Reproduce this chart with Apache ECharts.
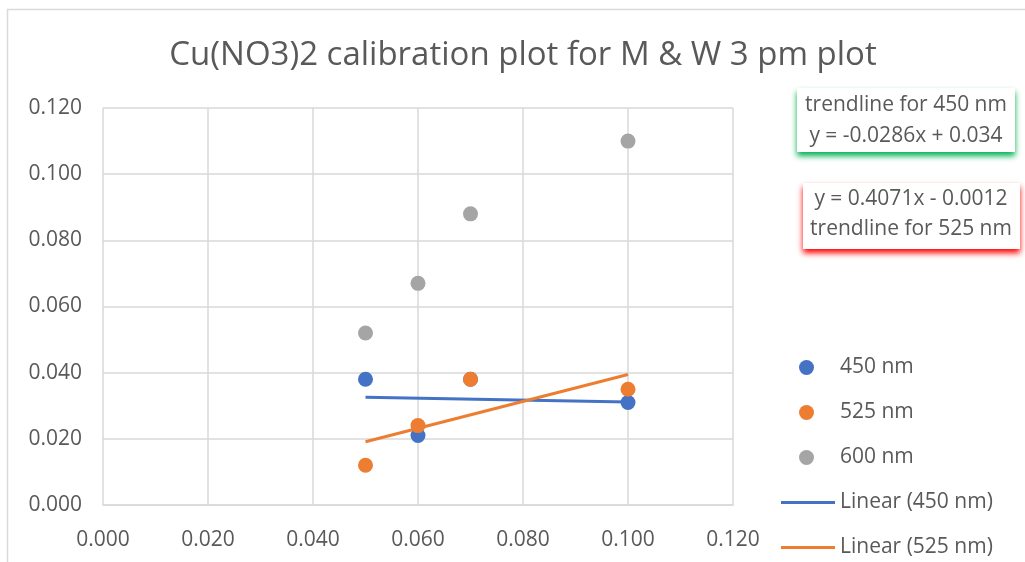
<!DOCTYPE html>
<html>
<head>
<meta charset="utf-8">
<script src="https://cdn.jsdelivr.net/npm/echarts@6/dist/echarts.min.js"></script>
<style>
  html, body { margin: 0; padding: 0; background: #fff; }
  #chart { width: 1025px; height: 562px; }
</style>
</head>
<body>
<div id="chart"></div>
<script>
var conc = [0.05, 0.06, 0.07, 0.1];
var abs450 = [0.038, 0.021, 0.038, 0.031];
var abs525 = [0.012, 0.024, 0.038, 0.035];
var abs600 = [0.052, 0.067, 0.088, 0.110];
var seriesNames = ['450 nm', '525 nm', '600 nm'];
var trendNames = ['Linear (450 nm)', 'Linear (525 nm)'];
var colors = ['#4472C4', '#ED7D31', '#A5A5A5'];

function pairs(xs, ys) {
    return xs.map(function (x, i) { return [x, ys[i]]; });
}

// least squares fit, drawn over the range of x like excel does
function trend(xs, ys) {
    var n = xs.length, mx = 0, my = 0, sxy = 0, sxx = 0;
    for (var i = 0; i < n; i++) { mx += xs[i] / n; my += ys[i] / n; }
    for (var j = 0; j < n; j++) {
        sxy += (xs[j] - mx) * (ys[j] - my);
        sxx += (xs[j] - mx) * (xs[j] - mx);
    }
    var b = sxy / sxx, a = my - b * mx;
    var x0 = Math.min.apply(null, xs), x1 = Math.max.apply(null, xs);
    return [[x0, a + b * x0], [x1, a + b * x1]];
}

var font = 'Open Sans';
var fs = 21;
var chart = echarts.init(document.getElementById('chart'));

var option = {
    backgroundColor: '#fff',
    animation: false,
    title: {
        text: 'Cu(NO3)2 calibration plot for M & W 3 pm plot',
        left: 518,
        textAlign: 'center',
        top: 34,
        textStyle: { fontFamily: font, fontSize: 33, fontWeight: 'normal', color: '#595959' }
    },
    grid: { left: 103, right: 292, top: 108, bottom: 57 },
    xAxis: {
        type: 'value', min: 0, max: 0.12, interval: 0.02,
        axisLine: { lineStyle: { color: '#d9d9d9', width: 1.5 } },
        axisTick: { show: false },
        splitLine: { lineStyle: { color: '#d9d9d9', width: 1.5 } },
        axisLabel: {
            formatter: function (v) { return v.toFixed(3); },
            fontFamily: font, fontSize: fs, color: '#595959', margin: 25
        }
    },
    yAxis: {
        type: 'value', min: 0, max: 0.12, interval: 0.02,
        axisLine: { show: false },
        axisTick: { show: false },
        splitLine: { lineStyle: { color: '#d9d9d9', width: 1.5 } },
        axisLabel: {
            formatter: function (v) { return v.toFixed(3); },
            fontFamily: font, fontSize: fs, color: '#595959', margin: 21
        }
    },
    legend: [
        {
            data: seriesNames,
            orient: 'vertical',
            left: 799, top: 357, padding: 0,
            itemWidth: 15, itemHeight: 15, itemGap: 24,
            icon: 'circle',
            textStyle: { fontFamily: font, fontSize: fs, color: '#595959', padding: [0, 0, 0, 21] }
        },
        {
            data: trendNames,
            orient: 'vertical',
            left: 781, top: 492, padding: 0,
            itemWidth: 54, itemHeight: 3, itemGap: 24,
            icon: 'rect',
            textStyle: { fontFamily: font, fontSize: fs, color: '#595959' }
        }
    ],
    graphic: [
        {
            type: 'rect', silent: true, z: -1,
            shape: { x: 7.5, y: 9.5, width: 1030, height: 570 },
            style: { fill: 'none', stroke: '#d9d9d9', lineWidth: 1.5 }
        },
        {
            type: 'group', left: 797, top: 88,
            children: [
                { type: 'rect', shape: { x: 0, y: 0, width: 218, height: 64 },
                  style: { fill: '#fff', shadowBlur: 6, shadowOffsetY: 4, shadowColor: '#00B050' } },
                { type: 'text', style: { x: 109, y: 2, text: 'trendline for 450 nm\ny = -0.0286x + 0.034',
                  align: 'center', fontFamily: font, fontSize: fs, lineHeight: 31, fill: '#595959' } }
            ]
        },
        {
            type: 'group', left: 803, top: 183,
            children: [
                { type: 'rect', shape: { x: 0, y: 0, width: 217, height: 66 },
                  style: { fill: '#fff', shadowBlur: 6, shadowOffsetY: 4, shadowColor: '#FF0000' } },
                { type: 'text', style: { x: 108, y: 1, text: 'y = 0.4071x - 0.0012\ntrendline for 525 nm',
                  align: 'center', fontFamily: font, fontSize: fs, lineHeight: 30, fill: '#595959' } }
            ]
        }
    ],
    series: [
        {
            name: seriesNames[0], type: 'scatter', symbolSize: 15, z: 4,
            itemStyle: { color: colors[0], opacity: 1 },
            data: pairs(conc, abs450)
        },
        {
            name: seriesNames[1], type: 'scatter', symbolSize: 15, z: 5,
            itemStyle: { color: colors[1], opacity: 1 },
            data: pairs(conc, abs525)
        },
        {
            name: seriesNames[2], type: 'scatter', symbolSize: 15, z: 3,
            itemStyle: { color: colors[2], opacity: 1 },
            data: pairs(conc, abs600)
        },
        {
            name: trendNames[0], type: 'line', showSymbol: false, z: 6,
            lineStyle: { color: colors[0], width: 3 },
            itemStyle: { color: colors[0] },
            data: trend(conc, abs450)
        },
        {
            name: trendNames[1], type: 'line', showSymbol: false, z: 6,
            lineStyle: { color: colors[1], width: 3 },
            itemStyle: { color: colors[1] },
            data: trend(conc, abs525)
        }
    ]
};
chart.setOption(option);
</script>
</body>
</html>
